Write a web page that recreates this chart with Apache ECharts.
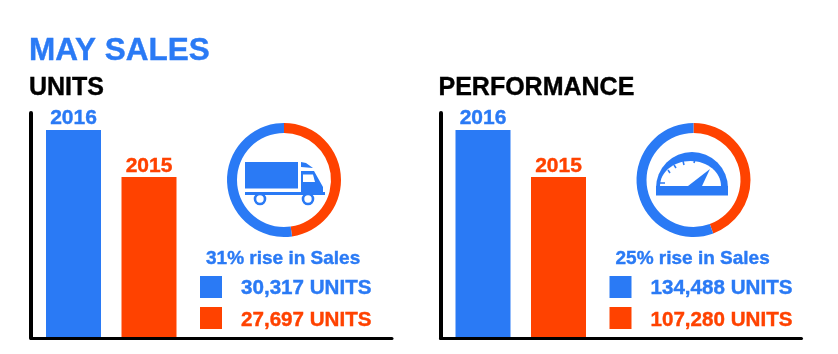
<!DOCTYPE html>
<html>
<head>
<meta charset="utf-8">
<style>
  html, body { margin: 0; padding: 0; background: #fff; }
  #main { width: 838px; height: 354px; }
</style>
<script src="https://cdn.jsdelivr.net/npm/echarts@6/dist/echarts.min.js"></script>
</head>
<body>
<div id="main"></div>
<script>
const years = ['2016', '2015']
const unitsValues = [30317, 27697]
const performanceValues = [134488, 107280]
const panelTitles = ['UNITS', 'PERFORMANCE']
const riseLabels = ['31% rise in Sales', '25% rise in Sales']
const unitsLabels = ['30,317 UNITS', '27,697 UNITS']
const performanceLabels = ['134,488 UNITS', '107,280 UNITS']

const BLUE = '#2a7af5'
const ORANGE = '#ff4200'
const FONT = '"Liberation Sans", Arial, sans-serif'

let myChart = echarts.init(document.getElementById('main'))

let grid = []
let xAxis = []
let yAxis = []
let series = []
let graphic = []

function addText (text, x, y, size, color) {
  graphic.push({
    type: 'text',
    x: x,
    y: y,
    silent: true,
    style: {
      text: text,
      fill: color,
      stroke: color,
      lineWidth: 0.4,
      font: 'bold ' + size + 'px ' + FONT,
      verticalAlign: 'middle'
    }
  })
}

// one panel: axis frame, two bars, donut, legend squares and texts
function addPanel (i, dx, values, range, labels) {
  // frame grid only carries the long black axis lines
  grid.push({ left: 31 + dx, top: 113, width: 361, height: 225 })
  xAxis.push({
    gridIndex: i * 2,
    type: 'value',
    min: 0,
    max: 1,
    axisLabel: { show: false },
    axisTick: { show: false },
    splitLine: { show: false },
    axisLine: { show: true, onZero: false, lineStyle: { color: '#000', width: 3 } }
  })
  yAxis.push({
    gridIndex: i * 2,
    type: 'value',
    min: 0,
    max: 1,
    axisLabel: { show: false },
    axisTick: { show: false },
    splitLine: { show: false },
    axisLine: { show: true, onZero: false, lineStyle: { color: '#000', width: 4 } }
  })

  // bars, the axis does not start at zero in the original
  grid.push({ left: 35.75 + dx, top: 113, width: 151, height: 224 })
  xAxis.push({ gridIndex: i * 2 + 1, type: 'category', data: years, show: false })
  yAxis.push({ gridIndex: i * 2 + 1, type: 'value', min: range[0], max: range[1], show: false })
  series.push({
    type: 'bar',
    xAxisIndex: i * 2 + 1,
    yAxisIndex: i * 2 + 1,
    barWidth: 55,
    silent: true,
    data: values.map((v, k) => ({
      value: v,
      itemStyle: { color: k === 0 ? BLUE : ORANGE },
      label: {
        show: true,
        position: 'top',
        distance: k === 0 ? 1 : 0,
        formatter: years[k],
        color: k === 0 ? BLUE : ORANGE,
        textBorderColor: k === 0 ? BLUE : ORANGE,
        textBorderWidth: 0.4,
        fontFamily: FONT,
        fontWeight: 'bold',
        fontSize: 21
      }
    }))
  })

  series.push({
    type: 'pie',
    center: [284 + dx, 180],
    radius: [47, 57],
    startAngle: 90,
    silent: true,
    label: { show: false },
    labelLine: { show: false },
    data: [
      { name: years[1], value: values[1], itemStyle: { color: ORANGE } },
      { name: years[0], value: values[0], itemStyle: { color: BLUE } }
    ]
  })

  addText(panelTitles[i], 29 + dx, 88, 25, '#000')
  addText(riseLabels[i], 206 + dx, 259, 19, BLUE)
  graphic.push({ type: 'rect', silent: true, shape: { x: 200 + dx, y: 276, width: 22, height: 22 }, style: { fill: BLUE } })
  graphic.push({ type: 'rect', silent: true, shape: { x: 200 + dx, y: 307, width: 22, height: 22 }, style: { fill: ORANGE } })
  addText(labels[0], 241 + dx, 288, 20.6, BLUE)
  addText(labels[1], 241 + dx, 320, 20.6, ORANGE)
}

addPanel(0, 0, unitsValues, [18775, 31265], unitsLabels)
addPanel(1, 409.5, performanceValues, [14655, 144330], performanceLabels)

addText('MAY SALES', 29, 51, 31.5, BLUE)

// truck icon
graphic.push({
  type: 'group',
  silent: true,
  children: [
    { type: 'rect', shape: { x: 245, y: 162, width: 53, height: 26.5 }, style: { fill: BLUE } },
    { type: 'rect', shape: { x: 245, y: 192, width: 80, height: 3 }, style: { fill: BLUE } },
    { type: 'polygon', shape: { points: [[301, 162], [306, 163], [313, 168], [301, 167]] }, style: { fill: BLUE } },
    { type: 'polygon', shape: { points: [[301, 171], [314, 171], [323, 187], [323, 192], [301, 192]] }, style: { fill: BLUE } },
    { type: 'polygon', shape: { points: [[303, 174.5], [313, 174.5], [315, 182], [303, 182]] }, style: { fill: '#fff' } },
    { type: 'circle', shape: { cx: 260, cy: 199, r: 5 }, style: { fill: '#fff', stroke: BLUE, lineWidth: 2.6 } },
    { type: 'circle', shape: { cx: 308, cy: 199, r: 5 }, style: { fill: '#fff', stroke: BLUE, lineWidth: 2.6 } }
  ]
})

// speedometer icon
graphic.push({
  type: 'group',
  silent: true,
  children: [
    { type: 'sector', shape: { cx: 692, cy: 188, r: 36, r0: 0, startAngle: Math.PI, endAngle: Math.PI * 2 }, style: { fill: BLUE } },
    { type: 'ellipse', shape: { cx: 690.5, cy: 186, rx: 30.5, ry: 25 }, style: { fill: '#fff' } },
    { type: 'rect', shape: { x: 656, y: 186, width: 72, height: 9.5 }, style: { fill: BLUE } },
    { type: 'polygon', shape: { points: [[688, 186], [710, 169], [702, 186]] }, style: { fill: BLUE } },
    { type: 'line', shape: { x1: 660, y1: 183, x2: 665, y2: 183 }, style: { stroke: BLUE, lineWidth: 1.5 } },
    { type: 'line', shape: { x1: 668, y1: 170, x2: 670, y2: 173 }, style: { stroke: BLUE, lineWidth: 1.5 } },
    { type: 'line', shape: { x1: 674, y1: 165, x2: 676, y2: 168 }, style: { stroke: BLUE, lineWidth: 1.5 } },
    { type: 'line', shape: { x1: 683, y1: 161, x2: 684, y2: 165 }, style: { stroke: BLUE, lineWidth: 1.5 } },
    { type: 'line', shape: { x1: 695, y1: 159, x2: 694, y2: 163 }, style: { stroke: BLUE, lineWidth: 1.5 } }
  ]
})

let option = {
  animation: false,
  backgroundColor: '#fff',
  grid: grid,
  xAxis: xAxis,
  yAxis: yAxis,
  series: series,
  graphic: graphic
}
myChart.setOption(option)
</script>
</body>
</html>
